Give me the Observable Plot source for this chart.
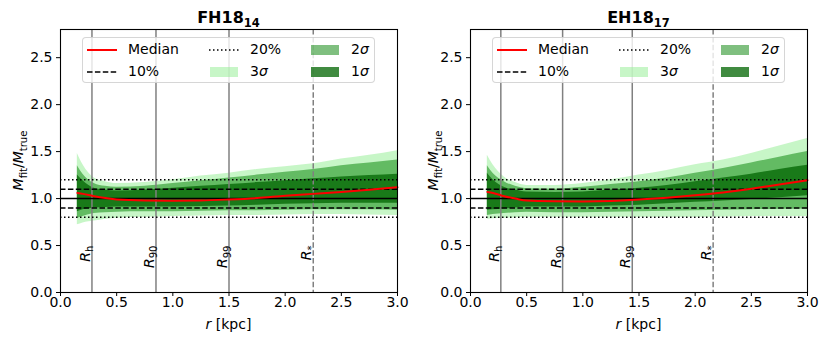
<!DOCTYPE html>
<html><head><meta charset="utf-8">
<script src="https://cdn.jsdelivr.net/npm/d3@7"></script>
<script src="https://cdn.jsdelivr.net/npm/@observablehq/plot@0.6"></script>
<style>
body{margin:0;background:#fff;font-family:"DejaVu Sans",sans-serif;}
#wrap{position:relative;width:830px;height:346px;overflow:hidden;}
.panel{position:absolute;top:0;width:415px;height:346px;}
.legend{position:absolute;top:37px;height:46px;width:293px;box-sizing:border-box;border:1px solid rgba(204,204,204,0.8);border-radius:4px;background:rgba(255,255,255,0.8);font-size:14px;color:#000;}
.lh{position:absolute;width:30px;height:12px;}
.lt{position:absolute;height:16px;line-height:16px;white-space:nowrap;}
</style></head>
<body><div id="wrap"></div>
<script>
// ---- data ----
const rGrid = [0.15, 0.2, 0.3, 0.4, 0.5, 0.75, 1.0, 1.25, 1.5, 1.75, 2.0, 2.25, 2.5, 2.75, 3.0];

const fhMedian = [1.06, 1.05, 1.025, 1.005, 0.99, 0.98, 0.978, 0.98, 0.99, 1.005, 1.03, 1.05, 1.07, 1.095, 1.12];
const fhHi1 = [1.25, 1.19, 1.11, 1.09, 1.08, 1.09, 1.11, 1.13, 1.15, 1.17, 1.19, 1.21, 1.23, 1.245, 1.26];
const fhLo1 = [0.86, 0.88, 0.90, 0.905, 0.91, 0.91, 0.91, 0.915, 0.92, 0.93, 0.94, 0.945, 0.95, 0.95, 0.95];
const fhHi2 = [1.35, 1.26, 1.16, 1.13, 1.12, 1.13, 1.16, 1.19, 1.22, 1.25, 1.28, 1.31, 1.35, 1.38, 1.41];
const fhLo2 = [0.79, 0.81, 0.84, 0.85, 0.855, 0.86, 0.86, 0.865, 0.87, 0.87, 0.875, 0.88, 0.88, 0.88, 0.875];
const fhHi3 = [1.48, 1.36, 1.22, 1.18, 1.16, 1.17, 1.20, 1.24, 1.27, 1.31, 1.34, 1.37, 1.42, 1.46, 1.51];
const fhLo3 = [0.72, 0.74, 0.76, 0.78, 0.79, 0.80, 0.81, 0.815, 0.82, 0.82, 0.825, 0.83, 0.83, 0.825, 0.82];

const ehMedian = [1.07, 1.06, 1.025, 1.0, 0.98, 0.972, 0.97, 0.975, 0.99, 1.01, 1.035, 1.065, 1.105, 1.15, 1.195];
const ehHi1 = [1.27, 1.20, 1.12, 1.09, 1.07, 1.065, 1.07, 1.09, 1.11, 1.14, 1.18, 1.22, 1.26, 1.31, 1.355];
const ehLo1 = [0.875, 0.88, 0.89, 0.90, 0.91, 0.91, 0.91, 0.92, 0.93, 0.945, 0.96, 0.975, 0.99, 1.01, 1.03];
const ehHi2 = [1.35, 1.27, 1.18, 1.13, 1.105, 1.10, 1.12, 1.15, 1.18, 1.22, 1.27, 1.32, 1.38, 1.44, 1.50];
const ehLo2 = [0.82, 0.83, 0.84, 0.85, 0.855, 0.85, 0.85, 0.855, 0.86, 0.865, 0.87, 0.875, 0.88, 0.885, 0.89];
const ehHi3 = [1.46, 1.36, 1.23, 1.17, 1.14, 1.14, 1.16, 1.20, 1.25, 1.30, 1.36, 1.41, 1.48, 1.56, 1.64];
const ehLo3 = [0.78, 0.785, 0.79, 0.795, 0.80, 0.80, 0.80, 0.80, 0.80, 0.80, 0.80, 0.805, 0.81, 0.81, 0.81];

const radiusLabels = ["R_h", "R_90", "R_99", "R_*"];
const fhRadii = [0.28, 0.85, 1.50, 2.25];
const ehRadii = [0.27, 0.82, 1.44, 2.16];

const panelTitles = [["FH18", "14"], ["EH18", "17"]];
const xTicks = [0, 0.5, 1.0, 1.5, 2.0, 2.5, 3.0];
const yTicks = [0, 0.5, 1.0, 1.5, 2.0, 2.5];
const levelSolid = [1.0];
const levelDashed = [0.9, 1.1];
const levelDotted = [0.8, 1.2];
const legendLabels = ["Median", "10%", "20%", "3σ", "2σ", "1σ"];

// ---- helpers ----
function rich(sel, parts, subDy) {
  let shift = 0;
  for (const [t, k] of parts) {
    const ts = sel.append("tspan").text(t);
    const want = k === "sub" ? subDy : 0;
    if (want !== shift) { ts.attr("dy", want - shift); shift = want; }
    if (k === "i") ts.attr("font-style", "italic");
    if (k === "sub") ts.attr("font-size", "0.72em");
  }
}

const C3 = "lightgreen", C2 = "green", C1 = "darkgreen";
const O3 = 0.5, O2 = 0.5, O1 = 0.75;

function makePanel(left, ml, mr, title, med, lo1, hi1, lo2, hi2, lo3, hi3, radii) {
  const W = 415, H = 346, mt = 29, mb = 54;
  const data = rGrid.map((r, i) => ({r, med: med[i], lo1: lo1[i], hi1: hi1[i], lo2: lo2[i], hi2: hi2[i], lo3: lo3[i], hi3: hi3[i]}));
  const rad = radii.map((r, i) => ({r, label: radiusLabels[i], ly: 0.5, dashed: radiusLabels[i] === "R_*"}));
  const chart = Plot.plot({
    width: W, height: H, marginLeft: ml, marginRight: mr, marginTop: mt, marginBottom: mb,
    style: {fontFamily: "DejaVu Sans", fontSize: "14px", background: "white", color: "black", overflow: "visible"},
    x: {domain: [0, 3], ticks: xTicks, tickFormat: d => d.toFixed(1), tickSize: 4, tickPadding: 1, label: null},
    y: {domain: [0, 2.8], ticks: yTicks, tickFormat: d => d.toFixed(1), tickSize: 4, tickPadding: 4, label: null},
    marks: [
      Plot.areaY(data, {x: "r", y1: "lo3", y2: "hi3", fill: C3, fillOpacity: O3, curve: "monotone-x"}),
      Plot.areaY(data, {x: "r", y1: "lo2", y2: "hi2", fill: C2, fillOpacity: O2, curve: "monotone-x"}),
      Plot.areaY(data, {x: "r", y1: "lo1", y2: "hi1", fill: C1, fillOpacity: O1, curve: "monotone-x"}),
      Plot.ruleX(rad.filter(d => !d.dashed), {x: "r", stroke: "gray", strokeWidth: 1.5}),
      Plot.ruleX(rad.filter(d => d.dashed), {x: "r", stroke: "gray", strokeWidth: 1.5, strokeDasharray: "5.5,2.4"}),
      Plot.ruleY(levelSolid, {stroke: "black", strokeWidth: 1.5}),
      Plot.ruleY(levelDashed, {stroke: "black", strokeWidth: 1.5, strokeDasharray: "5.5,2.4"}),
      Plot.ruleY(levelDotted, {stroke: "black", strokeWidth: 1.5, strokeDasharray: "1.5,2.5"}),
      Plot.lineY(data, {x: "r", y: "med", stroke: "red", strokeWidth: 2, curve: "monotone-x"}),
      Plot.text(rad, {x: "r", y: "ly", text: "label", rotate: -90, textAnchor: "end", lineAnchor: "bottom", dx: -2, fontSize: 14, fill: "black"}),
      Plot.frame({stroke: "black", strokeWidth: 1.1})
    ]
  });
  const svg = d3.select(chart);
  // subscript radius labels
  svg.selectAll("text").each(function () {
    const s = this.textContent;
    if (/^R_/.test(s) && this.childNodes.length === 1) {
      const [b, sub] = s.split("_");
      const t = d3.select(this); t.text("");
      rich(t, [[b, "i"], [sub, "sub"]], 3.5);
    }
  });
  const cx = ml + (W - ml - mr) / 2;
  const tt = svg.append("text").attr("x", cx).attr("y", 23).attr("text-anchor", "middle")
    .attr("font-size", 16).attr("font-weight", "bold").attr("fill", "black");
  rich(tt, [[title[0], "n"], [title[1], "sub"]], 4);
  const xl = svg.append("text").attr("x", cx).attr("y", 329).attr("text-anchor", "middle").attr("font-size", 14).attr("fill", "black");
  rich(xl, [["r", "i"], [" [kpc]", "n"]], 0);
  const yl = svg.append("text").attr("transform", `translate(23,${(mt + H - mb) / 2}) rotate(-90)`)
    .attr("text-anchor", "middle").attr("font-size", 14).attr("fill", "black");
  rich(yl, [["M", "i"], ["fit", "sub"], ["/", "n"], ["M", "i"], ["true", "sub"]], 3.5);

  const panel = document.createElement("div");
  panel.className = "panel"; panel.style.left = left + "px";
  panel.appendChild(chart);
  // legend
  const lg = document.createElement("div");
  lg.className = "legend"; lg.style.left = (cx - 146.5) + "px";
  const cols = [[4, 45], [126, 167], [227, 268]];
  const rowsY = [11, 33];
  const handles = [
    `<svg width="30" height="12"><line x1="0" x2="30" y1="6" y2="6" stroke="red" stroke-width="2"/></svg>`,
    `<svg width="30" height="12"><line x1="0" x2="30" y1="6" y2="6" stroke="black" stroke-width="1.5" stroke-dasharray="5.5,2.4"/></svg>`,
    `<svg width="30" height="12"><line x1="0" x2="30" y1="6" y2="6" stroke="black" stroke-width="1.5" stroke-dasharray="1.5,2.5"/></svg>`,
    `<svg width="30" height="12"><rect x="1" y="1" width="28" height="10" fill="${C3}" fill-opacity="${O3}"/></svg>`,
    `<svg width="30" height="12"><rect x="1" y="1" width="28" height="10" fill="${C2}" fill-opacity="${O2}"/></svg>`,
    `<svg width="30" height="12"><rect x="1" y="1" width="28" height="10" fill="${C1}" fill-opacity="${O1}"/></svg>`
  ];
  legendLabels.forEach((lab, i) => {
    const col = cols[Math.floor(i / 2)], row = rowsY[i % 2];
    const h = document.createElement("div"); h.className = "lh";
    h.style.left = col[0] + "px"; h.style.top = (row - 6) + "px"; h.innerHTML = handles[i];
    const t = document.createElement("div"); t.className = "lt";
    t.style.left = col[1] + "px"; t.style.top = (row - 8) + "px";
    t.innerHTML = lab.replace("σ", "<i>σ</i>");
    lg.appendChild(h); lg.appendChild(t);
  });
  panel.appendChild(lg);
  return panel;
}

const wrap = document.getElementById("wrap");
wrap.appendChild(makePanel(0, 60, 18, panelTitles[0], fhMedian, fhLo1, fhHi1, fhLo2, fhHi2, fhLo3, fhHi3, fhRadii));
wrap.appendChild(makePanel(415, 55, 23, panelTitles[1], ehMedian, ehLo1, ehHi1, ehLo2, ehHi2, ehLo3, ehHi3, ehRadii));
</script></body></html>
